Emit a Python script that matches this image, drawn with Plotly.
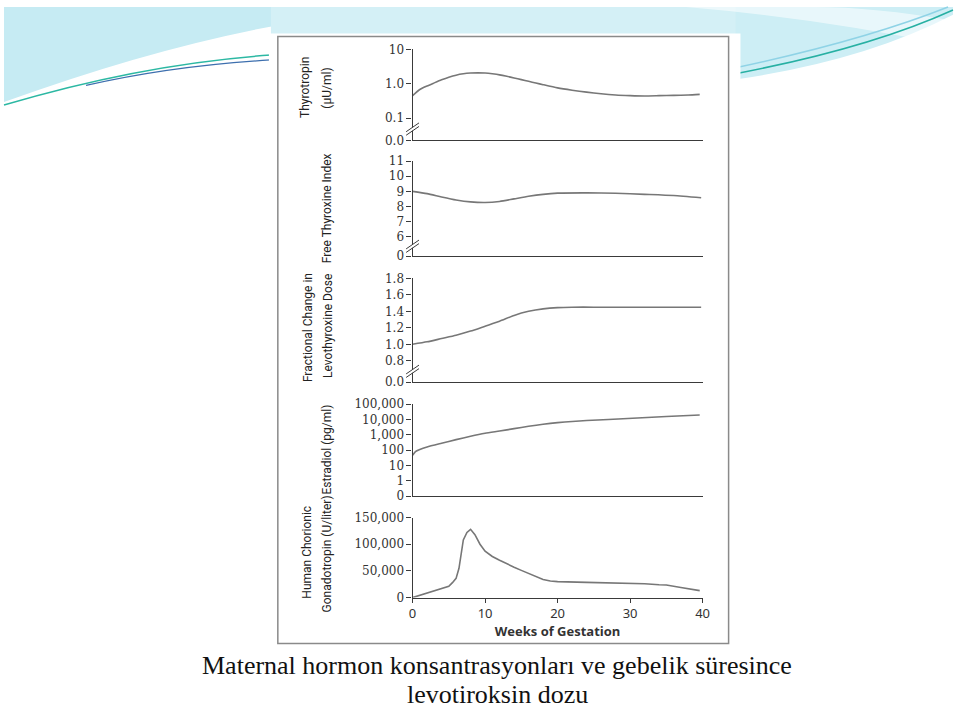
import plotly.graph_objects as go

# ---------------- data ----------------
weeks_tsh = [0, 1, 2, 3, 4, 5, 6, 7, 8, 9, 10, 11, 12, 13, 14, 15, 16, 17, 18, 20, 22, 24, 26, 28, 30, 32, 34, 36, 38, 39.6]
thyrotropin = [0.45, 0.68, 0.86, 1.06, 1.3, 1.55, 1.78, 1.95, 2.05, 2.08, 2.05, 1.95, 1.82, 1.65, 1.48, 1.32, 1.18, 1.05, 0.94,
               0.76, 0.65, 0.57, 0.51, 0.47, 0.45, 0.44, 0.45, 0.46, 0.47, 0.49]

weeks_fti = [0, 2, 4, 6, 8, 10, 12, 14, 16, 18, 20, 24, 28, 32, 36, 39.8]
free_thyroxine_index = [9.0, 8.85, 8.63, 8.43, 8.3, 8.26, 8.33, 8.5, 8.67, 8.8, 8.88, 8.9, 8.87, 8.8, 8.72, 8.57]

weeks_dose = [0, 2, 4, 6, 8, 10, 12, 14, 16, 18, 20, 22, 25, 30, 35, 39.8]
dose_change = [1.0, 1.03, 1.07, 1.11, 1.16, 1.22, 1.28, 1.35, 1.40, 1.43, 1.445, 1.45, 1.45, 1.45, 1.45, 1.45]

weeks_e2 = [0, 0.4, 1, 2, 4, 6, 8, 10, 12, 14, 16, 18, 20, 22, 24, 27, 31, 35, 39.6]
estradiol = [45, 80, 110, 160, 280, 480, 800, 1250, 1750, 2500, 3600, 4900, 6200, 7400, 8500, 10000, 12500, 15500, 19500]

weeks_hcg = [0, 2, 4, 5, 5.5, 6, 6.4, 6.7, 7.0, 7.5, 8.0, 8.6, 9.3, 10, 11, 12, 13, 14, 15, 16, 17, 18, 19, 20,
             24, 28, 30, 32, 34, 35, 37, 39.6]
hcg = [0, 8000, 16000, 21000, 28000, 36000, 55000, 85000, 108000, 122000, 128000, 118000, 100000, 87000, 77000,
       70000, 63000, 57000, 51000, 45000, 39000, 34000, 31000, 30000, 28500, 27500, 27000, 26000, 24000, 23500,
       19000, 13000]

x_ticks = [0, 10, 20, 30, 40]
x_ticktext = ["0", "10", "20", "30", "40"]

tsh_break = 10 ** -1.65
tsh_ticks = [tsh_break, 0.1, 1, 10]
tsh_ticktext = ["0.0", "0.1", "1.0", "10"]

fti_break = 4.7
fti_ticks = [fti_break, 6, 7, 8, 9, 10, 11]
fti_ticktext = ["0", "6", "7", "8", "9", "10", "11"]

dose_break = 0.54
dose_ticks = [dose_break, 0.8, 1.0, 1.2, 1.4, 1.6, 1.8]
dose_ticktext = ["0.0", "0.8", "1.0", "1.2", "1.4", "1.6", "1.8"]

e2_ticks = [0.1, 1, 10, 100, 1000, 10000, 100000]
e2_ticktext = ["0", "1", "10", "100", "1,000", "10,000", "100,000"]

hcg_ticks = [0, 50000, 100000, 150000]
hcg_ticktext = ["0", "50,000", "100,000", "150,000"]

caption_1 = "Maternal hormon konsantrasyonları ve gebelik süresince"
caption_2 = "levotiroksin dozu"

# ---------------- helpers ----------------
W, H = 960, 720


def fx(p):
    return p / W


def fy(p):
    return 1 - p / H


def path(cmds):
    out = []
    for c in cmds:
        op = c[0]
        nums = c[1:]
        pts = []
        for i in range(0, len(nums), 2):
            pts.append(f"{fx(nums[i]):.5f},{fy(nums[i + 1]):.5f}")
        out.append(op + " " + " ".join(pts))
    return " ".join(out)


LINE = "#777777"
AXIS = "#3a3a3a"
TICKFONT = dict(family="DejaVu Serif", size=12, color="#333333")
TITLEFONT = dict(family="Roboto", size=12, color="#222222")

fig = go.Figure()

series = [
    (weeks_tsh, thyrotropin, "spline"),
    (weeks_fti, free_thyroxine_index, "spline"),
    (weeks_dose, dose_change, "spline"),
    (weeks_e2, estradiol, "spline"),
    (weeks_hcg, hcg, "linear"),
]
for i, (xs, ys, shp) in enumerate(series, start=1):
    fig.add_trace(go.Scatter(
        x=xs, y=ys, mode="lines",
        line=dict(color=LINE, width=1.6, shape=shp, smoothing=0.6),
        xaxis="x" if i == 1 else f"x{i}", yaxis="y" if i == 1 else f"y{i}",
        showlegend=False, hoverinfo="skip"))

xdom = [fx(413.3), fx(706.7)]
ydoms = [(43.3, 136), (157.3, 254), (276.7, 382.7), (405, 498.7), (520.7, 602.3)]

layout = dict(
    width=W, height=H, margin=dict(l=0, r=0, t=0, b=0),
    paper_bgcolor="white", plot_bgcolor="rgba(0,0,0,0)",
)

yspecs = [
    dict(type="log", range=[-1.65, 1], tickvals=tsh_ticks, ticktext=tsh_ticktext),
    dict(type="linear", range=[fti_break, 11], tickvals=fti_ticks, ticktext=fti_ticktext),
    dict(type="linear", range=[dose_break, 1.8], tickvals=dose_ticks, ticktext=dose_ticktext),
    dict(type="log", range=[-1, 5], tickvals=e2_ticks, ticktext=e2_ticktext),
    dict(type="linear", range=[0, 150000], tickvals=hcg_ticks, ticktext=hcg_ticktext),
]

for i in range(1, 6):
    xname = "xaxis" if i == 1 else f"xaxis{i}"
    yname = "yaxis" if i == 1 else f"yaxis{i}"
    yid = "y" if i == 1 else f"y{i}"
    xid = "x" if i == 1 else f"x{i}"
    top, bot = ydoms[i - 1]
    xa = dict(domain=xdom, anchor=yid, range=[0, 40], showgrid=False, zeroline=False,
              showline=True, linecolor=AXIS, linewidth=1.2, fixedrange=True)
    if i == 5:
        xa.update(tickvals=x_ticks, ticktext=x_ticktext, ticks="outside", ticklen=4,
                  tickcolor=AXIS, tickwidth=1,
                  tickfont=dict(family="Noto Sans", size=13, color="#333333"),
                  title=dict(text="<b>Weeks of Gestation</b>", standoff=4,
                             font=dict(family="Open Sans", size=13, color="#333333")))
    else:
        xa.update(showticklabels=False, ticks="")
    layout[xname] = xa
    ya = dict(domain=[fy(bot), fy(top)], anchor=xid, showgrid=False, zeroline=False,
              showline=True, linecolor=AXIS, linewidth=1.2, ticks="outside", ticklen=5,
              tickcolor=AXIS, tickwidth=1, tickfont=TICKFONT, fixedrange=True)
    ya.update(yspecs[i - 1])
    layout[yname] = ya

fig.update_layout(**layout)

# ---------------- decorations: slide background, panel, axis breaks ----------------
shapes = []
shapes.append(dict(type="path", xref="paper", yref="paper", layer="below", line=dict(width=0),
                   fillcolor="#c6ebf3",
                   path=path([("M", 0, 0), ("L", 280, 0), ("L", 280, 18), ("Q", 150, 42, 0, 97), ("Z",)])))
shapes.append(dict(type="path", xref="paper", yref="paper", layer="below", line=dict(width=0),
                   fillcolor="#d4f0f6",
                   path=path([("M", 270, 0), ("L", 750, 0), ("L", 750, 30), ("L", 270, 30), ("Z",)])))
shapes.append(dict(type="path", xref="paper", yref="paper", layer="below", line=dict(width=0),
                   fillcolor="#cdeef5",
                   path=path([("M", 740, 0), ("L", 960, 0), ("L", 960, 8), ("Q", 870, 55, 740, 74), ("Z",)])))
shapes.append(dict(type="path", xref="paper", yref="paper", layer="below", line=dict(width=0),
                   fillcolor="rgba(255,255,255,0.55)",
                   path=path([("M", 690, 0), ("Q", 830, 12, 960, 40), ("L", 960, 14), ("Q", 880, 0, 820, 0), ("Z",)])))
shapes.append(dict(type="path", xref="paper", yref="paper", layer="below",
                   line=dict(color="#2cb8a3", width=1.5),
                   path=path([("M", 0, 100), ("Q", 140, 58, 270, 49)])))
shapes.append(dict(type="path", xref="paper", yref="paper", layer="below",
                   line=dict(color="#3d6fae", width=1.3),
                   path=path([("M", 83, 80), ("Q", 170, 60, 270, 54)])))
shapes.append(dict(type="path", xref="paper", yref="paper", layer="below",
                   line=dict(color="#8fd3e6", width=1.5),
                   path=path([("M", 740, 62), ("Q", 870, 34, 955, 0)])))
shapes.append(dict(type="path", xref="paper", yref="paper", layer="below",
                   line=dict(color="#27b0a3", width=1.5),
                   path=path([("M", 740, 68), ("Q", 875, 42, 960, 3)])))
shapes.append(dict(type="rect", xref="paper", yref="paper", layer="below", line=dict(width=0),
                   fillcolor="white", x0=fx(268), x1=fx(745), y0=fy(651), y1=fy(27)))
shapes.append(dict(type="rect", xref="paper", yref="paper", layer="below",
                   line=dict(color="#8a8a8a", width=1.5), fillcolor="rgba(0,0,0,0)",
                   x0=fx(277), x1=fx(733), y0=fy(649), y1=fy(30)))

ax_x = 413.3
for yc in (124.5, 244, 371.5):
    shapes.append(dict(type="line", xref="paper", yref="paper", layer="above",
                       line=dict(color="white", width=3),
                       x0=fx(ax_x), x1=fx(ax_x), y0=fy(yc + 1.6), y1=fy(yc - 1.6)))
    for off in (-1.8, 1.8):
        shapes.append(dict(type="line", xref="paper", yref="paper", layer="above",
                           line=dict(color=AXIS, width=1),
                           x0=fx(ax_x - 6.5), y0=fy(yc + off + 4.5),
                           x1=fx(ax_x + 6.5), y1=fy(yc + off - 4.5)))

fig.update_layout(shapes=shapes)

# ---------------- text: y titles and caption ----------------
titles = [
    ("Thyrotropin", 305, 82), ("(μU/ml)", 327, 83),
    ("Free Thyroxine Index", 327, 205),
    ("Fractional Change in", 307, 327), ("Levothyroxine Dose", 327, 325),
    ("Estradiol (pg/ml)", 327, 451),
    ("Human Chorionic", 307, 556), ("Gonadotropin (U/liter)", 327, 558),
]
ann = []
for txt, px, py in titles:
    ann.append(dict(text=txt, x=fx(px), y=fy(py), xref="paper", yref="paper", showarrow=False,
                    textangle=-90, xanchor="center", yanchor="middle", font=TITLEFONT))
ann.append(dict(text=caption_1, x=fx(498.5), y=fy(672), xref="paper", yref="paper", showarrow=False,
                xanchor="center", yanchor="middle",
                font=dict(family="Liberation Serif", size=26, color="#111111")))
ann.append(dict(text=caption_2, x=fx(499), y=fy(701), xref="paper", yref="paper", showarrow=False,
                xanchor="center", yanchor="middle",
                font=dict(family="Liberation Serif", size=26, color="#111111")))
fig.update_layout(annotations=ann)

post = ("document.documentElement.style.margin='0';document.body.style.margin='0';"
        "document.documentElement.style.overflow='hidden';document.body.style.overflow='hidden';"
        "var d=document.getElementById('{plot_id}');d.style.position='fixed';d.style.left='0px';d.style.top='0px';")
fig.write_html("out.html", config={"displayModeBar": False}, post_script=post)
